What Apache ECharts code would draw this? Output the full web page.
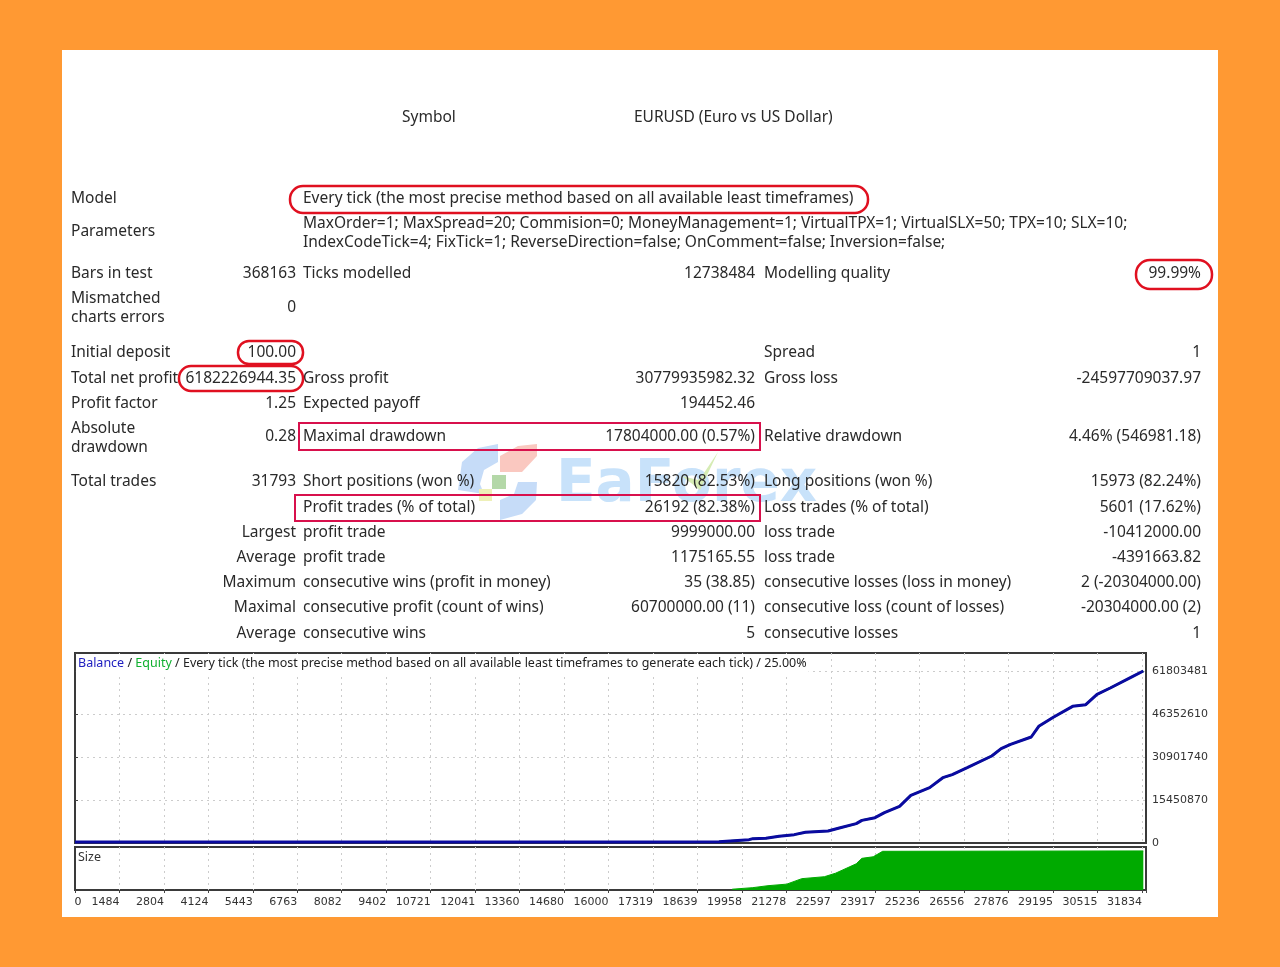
<!DOCTYPE html>
<html>
<head>
<meta charset="utf-8">
<title>Strategy Tester Report</title>
<style>
  html, body { margin: 0; padding: 0; background: #ff9933; }
  #main { width: 1280px; height: 967px; filter: blur(0.45px); }
</style>
<script src="https://cdn.jsdelivr.net/npm/echarts@6/dist/echarts.min.js"></script>
</head>
<body>
<div id="main"></div>
<script>
// balance curve, trade number / money
var balanceTrades = [0, 5000, 10000, 16855, 19212, 19270, 20110, 20223, 20615, 21008, 21458, 21793, 22467, 22804, 23308, 23477, 23869, 24150, 24600, 24937, 25498, 25891, 26172, 26620, 27350, 27631, 27912, 28529, 28753, 29200, 29764, 30155, 30492, 30886, 31560, 31873];
var balanceValues = [400000, 400000, 400000, 400000, 480000, 1080000, 1200000, 1560000, 1680000, 2400000, 3000000, 3830000, 4310000, 5390000, 6950000, 8140000, 9100000, 10900000, 13170000, 17130000, 19880000, 23470000, 24550000, 27070000, 31260000, 33900000, 35450000, 38090000, 41920000, 45270000, 49100000, 49700000, 53420000, 55690000, 59880000, 61803481];
var equityValues = [400000, 400000, 400000, 400000, 480000, 1080000, 1200000, 1560000, 1680000, 2400000, 3000000, 3830000, 4310000, 5390000, 6950000, 8140000, 9100000, 10900000, 13170000, 17130000, 19880000, 23470000, 24550000, 27070000, 31260000, 33900000, 35450000, 38090000, 41920000, 45270000, 49100000, 49700000, 53420000, 55690000, 59880000, 61803481];

// size panel
var sizeTrades = [19606, 20223, 20675, 21235, 21683, 22357, 22692, 23308, 23477, 23815, 24096, 31873];
var sizeValues = [2, 6, 11, 15, 29, 34, 43, 67, 81, 85, 99, 100];

var xTickLabels = ['0', '1484', '2804', '4124', '5443', '6763', '8082', '9402', '10721', '12041', '13360', '14680', '16000', '17319', '18639', '19958', '21278', '22597', '23917', '25236', '26556', '27876', '29195', '30515', '31834'];
var yTickLabels = ['0', '15450870', '30901740', '46352610', '61803481'];

// report table, one row per line: left label, value, middle label, value, right label, value
var reportRows = [
    ['Bars in test', '368163', 'Ticks modelled', '12738484', 'Modelling quality', '99.99%'],
    ['', '0', '', '', '', ''],
    ['Initial deposit', '100.00', '', '', 'Spread', '1'],
    ['Total net profit', '6182226944.35', 'Gross profit', '30779935982.32', 'Gross loss', '-24597709037.97'],
    ['Profit factor', '1.25', 'Expected payoff', '194452.46', '', ''],
    ['', '0.28', 'Maximal drawdown', '17804000.00 (0.57%)', 'Relative drawdown', '4.46% (546981.18)'],
    ['Total trades', '31793', 'Short positions (won %)', '15820 (82.53%)', 'Long positions (won %)', '15973 (82.24%)'],
    ['', '', 'Profit trades (% of total)', '26192 (82.38%)', 'Loss trades (% of total)', '5601 (17.62%)'],
    ['', 'Largest', 'profit trade', '9999000.00', 'loss trade', '-10412000.00'],
    ['', 'Average', 'profit trade', '1175165.55', 'loss trade', '-4391663.82'],
    ['', 'Maximum', 'consecutive wins (profit in money)', '35 (38.85)', 'consecutive losses (loss in money)', '2 (-20304000.00)'],
    ['', 'Maximal', 'consecutive profit (count of wins)', '60700000.00 (11)', 'consecutive loss (count of losses)', '-20304000.00 (2)'],
    ['', 'Average', 'consecutive wins', '5', 'consecutive losses', '1']
];
var reportRowY = [274, 308, 353, 379, 404, 437, 482, 508, 533, 558, 583, 608, 634];

var textFont = '"Noto Sans", sans-serif';
var textColor = '#2a2a2a';
var yInterval = 15450870;
var xInterval = 1326.4;

function label(x, y, s, align, extra) {
    var style = {
        text: s, x: x, y: y, align: align || 'left', verticalAlign: 'middle',
        font: '15.5px ' + textFont, fill: textColor
    };
    return { type: 'text', z: 5, style: extra ? Object.assign(style, extra) : style };
}

function outline(x, y, w, h, r, color, width) {
    return {
        type: 'rect', z: 6,
        shape: { x: x, y: y, width: w, height: h, r: r },
        style: { fill: 'none', stroke: color, lineWidth: width }
    };
}

var elements = [
    { type: 'rect', z: -1, shape: { x: 62, y: 50, width: 1156, height: 867 }, style: { fill: '#ffffff' } },

    // watermark
    { type: 'text', z: 1, style: { text: 'EaForex', x: 556, y: 486, verticalAlign: 'middle', font: 'bold 58px "DejaVu Sans", sans-serif', fill: '#c8e2fa' } },
    { type: 'polygon', z: 1, shape: { points: [[458, 490], [462, 462], [478, 448], [498, 444], [498, 462], [484, 470], [480, 484], [484, 494]] }, style: { fill: '#c6dcf8' } },
    { type: 'polygon', z: 1, shape: { points: [[500, 472], [500, 456], [518, 446], [537, 444], [537, 456], [522, 472]] }, style: { fill: '#fac8c0' } },
    { type: 'polygon', z: 1, shape: { points: [[500, 520], [500, 500], [514, 494], [518, 482], [537, 482], [536, 500], [522, 514]] }, style: { fill: '#c6dcf8' } },
    { type: 'rect', z: 1, shape: { x: 492, y: 475, width: 14, height: 14 }, style: { fill: '#b4d8a8' } },
    { type: 'rect', z: 1, shape: { x: 479, y: 489, width: 13, height: 12 }, style: { fill: '#eef0b8' } },
    { type: 'polygon', z: 2, shape: { points: [[682, 476], [700, 490], [718, 452], [702, 476], [698, 480]] }, style: { fill: '#d6ecb4' } },

    // header block
    label(402, 118, 'Symbol'),
    label(634, 118, 'EURUSD (Euro vs US Dollar)'),
    label(71, 199, 'Model'),
    label(303, 199, 'Every tick (the most precise method based on all available least timeframes)'),
    label(71, 232, 'Parameters'),
    label(303, 224, 'MaxOrder=1; MaxSpread=20; Commision=0; MoneyManagement=1; VirtualTPX=1; VirtualSLX=50; TPX=10; SLX=10;'),
    label(303, 243, 'IndexCodeTick=4; FixTick=1; ReverseDirection=false; OnComment=false; Inversion=false;'),
    label(71, 299, 'Mismatched'),
    label(71, 318, 'charts errors'),
    label(71, 429, 'Absolute'),
    label(71, 448, 'drawdown'),

    // highlights
    outline(290, 186, 578, 27, 13, '#e01020', 2.5),
    outline(1136, 260, 76, 29, 14, '#e01020', 2.5),
    outline(238, 341, 65, 23, 11, '#e01020', 2.5),
    outline(179, 366, 124, 25, 12, '#e01020', 2.5),
    outline(299, 423, 461, 27, 0, '#d8104c', 2),
    outline(295, 495, 465, 26, 0, '#d8104c', 2),

    // first x label sits right of its tick, the others left
    label(78, 902, xTickLabels[0], 'center', { font: '11px "DejaVu Sans", sans-serif' })
];

reportRows.forEach(function (row, i) {
    var y = reportRowY[i];
    if (row[0]) elements.push(label(71, y, row[0]));
    if (row[1]) elements.push(label(296, y, row[1], 'right'));
    if (row[2]) elements.push(label(303, y, row[2]));
    if (row[3]) elements.push(label(755, y, row[3], 'right'));
    if (row[4]) elements.push(label(764, y, row[4]));
    if (row[5]) elements.push(label(1201, y, row[5], 'right'));
});

var myChart = echarts.init(document.getElementById('main'));

var dotted = { show: true, showMinLine: false, showMaxLine: false, lineStyle: { color: '#cccccc', type: [2, 4], width: 1 } };

var option = {
    backgroundColor: '#ff9933',
    animation: false,
    graphic: { elements: elements },
    title: [
        {
            text: '{b|Balance} / {e|Equity} / Every tick (the most precise method based on all available least timeframes to generate each tick) / 25.00%',
            left: 76, top: 654, padding: [3, 2, 7, 2], backgroundColor: '#fff',
            textStyle: {
                fontFamily: 'Noto Sans', fontSize: 12.5, fontWeight: 'normal', color: '#222',
                rich: {
                    b: { color: '#2020c0', fontFamily: 'Noto Sans', fontSize: 12.5 },
                    e: { color: '#10b030', fontFamily: 'Noto Sans', fontSize: 12.5 }
                }
            }
        },
        {
            text: 'Size',
            left: 78, top: 851, padding: 0,
            textStyle: { fontFamily: 'Noto Sans', fontSize: 12.5, fontWeight: 'normal', color: '#333' }
        }
    ],
    grid: [
        { left: 75, top: 653, width: 1071, height: 190, show: true, backgroundColor: '#fff', borderColor: '#3a3a3a', borderWidth: 2 },
        { left: 75, top: 847, width: 1071, height: 43, show: true, backgroundColor: '#fff', borderColor: '#3a3a3a', borderWidth: 2 }
    ],
    xAxis: [
        {
            type: 'value', gridIndex: 0, min: 0, max: 31953, interval: xInterval,
            axisLine: { show: false }, axisTick: { show: false }, axisLabel: { show: false }, splitLine: dotted
        },
        {
            type: 'value', gridIndex: 1, min: 0, max: 31953, interval: xInterval,
            axisLine: { show: false },
            axisTick: { show: true, length: 3, lineStyle: { color: '#444' } },
            splitLine: dotted,
            axisLabel: {
                show: true, align: 'right', margin: 7,
                fontFamily: 'DejaVu Sans', fontSize: 11, color: '#333',
                showMinLabel: true, showMaxLabel: true,
                formatter: function (v) {
                    var i = Math.round(v / xInterval);
                    return i > 0 && Math.abs(v - i * xInterval) < 1 && xTickLabels[i] ? xTickLabels[i] : '';
                }
            }
        }
    ],
    yAxis: [
        {
            type: 'value', gridIndex: 0, position: 'right', min: 0, max: 68270000, interval: yInterval,
            axisLine: { show: false },
            axisTick: { show: true, length: 3, lineStyle: { color: '#444' } },
            splitLine: dotted,
            axisLabel: {
                fontFamily: 'DejaVu Sans', fontSize: 11, color: '#333', margin: 6,
                formatter: function (v) {
                    var i = Math.round(v / yInterval);
                    return Math.abs(v - i * yInterval) < 1 ? (yTickLabels[i] || '') : '';
                }
            }
        },
        {
            type: 'value', gridIndex: 1, min: 0, max: 110,
            axisLine: { show: false }, axisTick: { show: false }, axisLabel: { show: false }, splitLine: { show: false }
        }
    ],
    series: [
        {
            name: 'Equity', type: 'line', xAxisIndex: 0, yAxisIndex: 0, symbol: 'none', z: 3,
            lineStyle: { color: '#00b000', width: 2 },
            data: balanceTrades.map(function (t, i) { return [t, equityValues[i]]; })
        },
        {
            name: 'Balance', type: 'line', xAxisIndex: 0, yAxisIndex: 0, symbol: 'none', z: 4,
            lineStyle: { color: '#0a0aa0', width: 3 },
            data: balanceTrades.map(function (t, i) { return [t, balanceValues[i]]; })
        },
        {
            name: 'Size', type: 'line', xAxisIndex: 1, yAxisIndex: 1, symbol: 'none', z: 3,
            lineStyle: { color: '#00aa00', width: 1 },
            areaStyle: { color: '#00aa00', opacity: 1 },
            data: sizeTrades.map(function (t, i) { return [t, sizeValues[i]]; })
        }
    ]
};

myChart.setOption(option);
</script>
</body>
</html>
